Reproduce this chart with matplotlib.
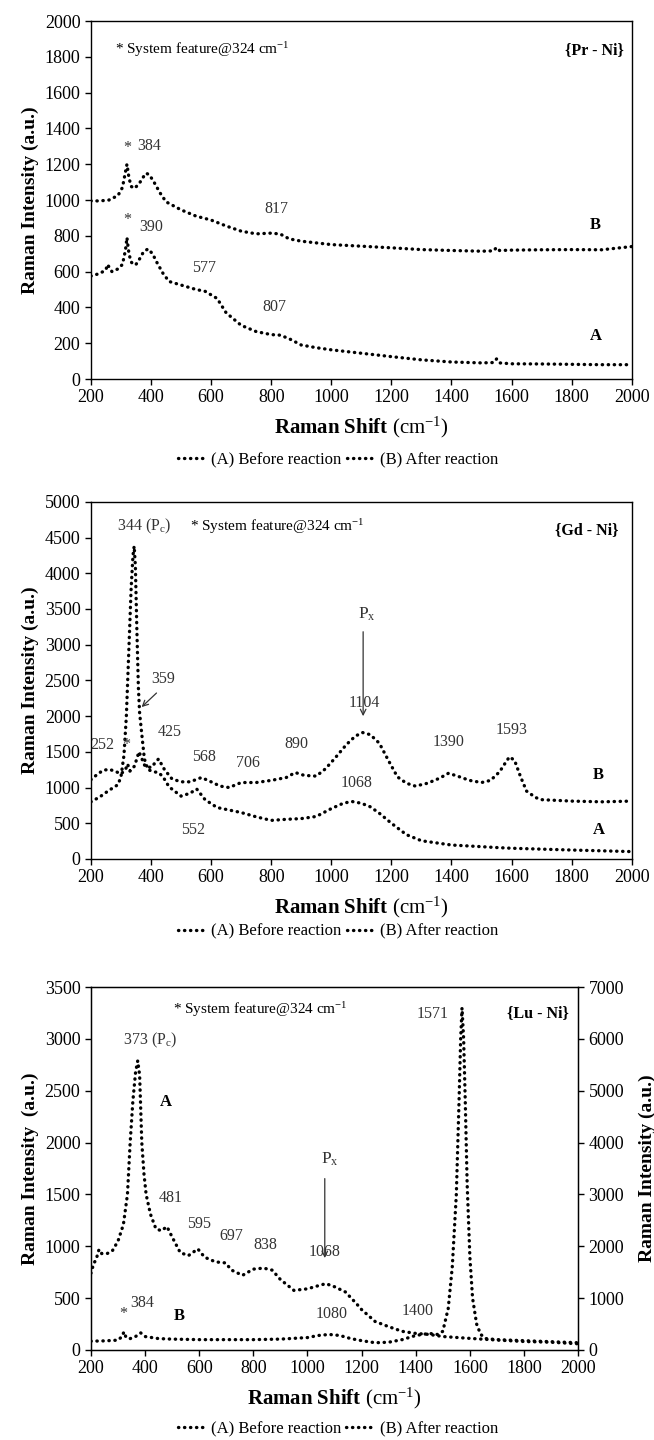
import matplotlib
matplotlib.use('Agg')
import matplotlib.pyplot as plt
from matplotlib.lines import Line2D

plt.rcParams['font.family'] = ['Liberation Serif', 'DejaVu Serif']
plt.rcParams['mathtext.fontset'] = 'custom'
plt.rcParams['mathtext.rm'] = 'Liberation Serif'
plt.rcParams['mathtext.it'] = 'Liberation Serif:italic'
plt.rcParams['mathtext.bf'] = 'Liberation Serif:bold'

# ---- {Pr - Ni} ----
pr_x_a = [200, 230, 250, 255, 270, 290, 305, 315, 320, 325, 332, 340, 350, 360, 375, 390, 405, 420, 440,
          460, 500, 550, 580, 620, 650, 700, 750, 800, 830, 860, 900, 950, 1000, 1100, 1200, 1300, 1400,
          1500, 1540, 1550, 1560, 1600, 1700, 1800, 1900, 2000]
pr_a = [575, 590, 610, 640, 600, 615, 640, 720, 790, 720, 660, 640, 640, 665, 710, 727, 700, 650, 590,
        545, 525, 500, 490, 450, 370, 300, 265, 248, 245, 225, 190, 175, 163, 144, 125, 107, 95,
        90, 92, 112, 90, 85, 84, 82, 80, 80]
pr_x_b = [200, 230, 260, 290, 305, 313, 320, 327, 335, 345, 360, 375, 384, 395, 410, 430, 450, 500, 550,
          600, 650, 700, 750, 800, 830, 860, 900, 1000, 1100, 1200, 1300, 1400, 1500, 1540, 1550, 1560,
          1600, 1700, 1800, 1900, 2000]
pr_b = [995, 995, 1000, 1025, 1070, 1140, 1200, 1120, 1075, 1065, 1090, 1130, 1150, 1140, 1100, 1040, 990,
        945, 910, 888, 855, 826, 811, 815, 810, 783, 770, 751, 742, 733, 723, 718, 714, 716, 735, 718,
        720, 722, 723, 722, 740]

# ---- {Gd - Ni} ----
gd_x_a = [200, 230, 260, 290, 300, 310, 318, 326, 334, 340, 344, 348, 353, 358, 362, 368, 378, 390, 410,
          425, 440, 460, 500, 530, 552, 580, 620, 700, 750, 800, 850, 900, 950, 1000, 1040, 1068, 1100,
          1130, 1160, 1200, 1250, 1300, 1400, 1500, 1550, 1600, 1800, 2000]
gd_a = [800, 870, 960, 1040, 1150, 1450, 2000, 2900, 3800, 4250, 4380, 4100, 3200, 2400, 2050, 1800, 1400,
        1250, 1220, 1210, 1150, 1010, 880, 920, 980, 830, 720, 650, 590, 540, 555, 565, 595, 705, 780,
        805, 780, 730, 640, 500, 340, 255, 195, 172, 160, 150, 125, 103]
gd_x_b = [200, 220, 240, 260, 280, 300, 315, 322, 330, 345, 360, 380, 400, 425, 445, 470, 500, 530, 568,
          600, 630, 660, 700, 750, 800, 850, 880, 910, 950, 980, 1010, 1050, 1080, 1104, 1130, 1160, 1190,
          1220, 1250, 1280, 1320, 1360, 1390, 1420, 1460, 1500, 1530, 1560, 1580, 1593, 1610, 1630, 1650,
          1680, 1700, 1800, 1900, 2000]
gd_b = [1110, 1180, 1240, 1255, 1230, 1190, 1250, 1330, 1230, 1300, 1500, 1300, 1280, 1400, 1250, 1120,
        1080, 1080, 1140, 1080, 1020, 1000, 1070, 1070, 1100, 1140, 1210, 1170, 1160, 1260, 1400, 1600,
        1720, 1770, 1740, 1620, 1380, 1150, 1060, 1020, 1060, 1130, 1200, 1160, 1100, 1070, 1100, 1220,
        1350, 1430, 1380, 1150, 950, 860, 830, 810, 800, 810]

# ---- {Lu - Ni} ----  (A on left axis, B on right axis)
lu_x_a = [200, 210, 220, 230, 240, 260, 280, 300, 320, 335, 345, 355, 365, 373, 380, 388, 396, 404, 420,
          440, 460, 481, 500, 530, 560, 595, 620, 660, 697, 720, 760, 800, 838, 870, 900, 950, 1000, 1040,
          1068, 1100, 1140, 1180, 1200, 1250, 1300, 1350, 1400, 1450, 1500, 1600, 1700, 1800, 1900, 2000]
lu_a = [740, 830, 880, 970, 930, 930, 960, 1050, 1210, 1500, 2000, 2400, 2680, 2790, 2650, 2000, 1700,
        1500, 1310, 1170, 1150, 1190, 1090, 940, 910, 975, 895, 850, 840, 770, 720, 780, 790, 770, 680,
        575, 590, 620, 640, 610, 560, 450, 390, 275, 225, 180, 160, 150, 130, 112, 96, 82, 75, 60]
lu_x_b = [200, 250, 300, 315, 322, 330, 345, 365, 384, 400, 450, 500, 600, 700, 800, 900, 1000, 1040, 1080,
          1120, 1160, 1200, 1250, 1300, 1350, 1400, 1450, 1480, 1500, 1520, 1535, 1550, 1560, 1566, 1571,
          1577, 1583, 1590, 1600, 1610, 1625, 1640, 1660, 1700, 1800, 1900, 2000]
lu_b = [170, 176, 190, 260, 350, 240, 220, 260, 330, 260, 220, 210, 200, 200, 200, 210, 240, 280, 300,
        280, 220, 180, 140, 150, 200, 280, 320, 300, 360, 800, 1600, 3000, 4800, 6000, 6600, 6000, 4800,
        3200, 1800, 1000, 500, 300, 220, 200, 180, 160, 140]

XTICKS = list(range(200, 2001, 200))
DOT = dict(color='black', lw=2.4, ls=(0, (0.1, 1.7)), dash_capstyle='round')
NUM = dict(fontsize=11.5, color='#333333', ha='center', va='center')
BOLD = dict(fontsize=12, fontweight='bold', ha='center', va='center')
XLAB = r'$\mathbf{Raman\ Shift}$ (cm$^{\mathregular{-1}}$)'


def style(ax, ymax, ystep):
    ax.set_xlim(200, 2000)
    ax.set_xticks(XTICKS)
    ax.set_ylim(0, ymax)
    ax.set_yticks(range(0, ymax + 1, ystep))
    ax.tick_params(direction='out', length=4, width=1, labelsize=13)
    ax.set_xlabel(XLAB, fontsize=15, labelpad=6)
    ax.set_ylabel('Raman Intensity (a.u.)', fontsize=14, fontweight='bold', labelpad=4)
    for s in ax.spines.values():
        s.set_linewidth(1)


def legend(ax, xc, yoff):
    h = [Line2D([], [], **DOT), Line2D([], [], **DOT)]
    ax.legend(h, ['(A) Before reaction', '(B) After reaction'], ncol=2, frameon=False,
              loc='center', bbox_to_anchor=(xc, yoff), fontsize=12, handlelength=1.6,
              handletextpad=0.4, columnspacing=0.3)


fig = plt.figure(figsize=(6.54, 14.4), dpi=100)

# top panel
ax1 = fig.add_axes([0.139, 0.7368, 0.827, 0.2486])
ax1.plot(pr_x_a, pr_a, **DOT)
ax1.plot(pr_x_b, pr_b, **DOT)
style(ax1, 2000, 200)
ax1.text(280, 1840, '* System feature@324 cm$^{-1}$', fontsize=11, ha='left', va='center')
ax1.text(1975, 1840, '{Pr - Ni}', fontsize=11.5, fontweight='bold', ha='right', va='center')
ax1.text(322, 1290, '*', **NUM)
ax1.text(395, 1300, '384', **NUM)
ax1.text(322, 890, '*', **NUM)
ax1.text(400, 850, '390', **NUM)
ax1.text(577, 620, '577', **NUM)
ax1.text(810, 400, '807', **NUM)
ax1.text(817, 950, '817', **NUM)
ax1.text(1880, 860, 'B', **BOLD)
ax1.text(1880, 240, 'A', **BOLD)
legend(ax1, 0.457, -0.226)

# middle panel
ax2 = fig.add_axes([0.139, 0.4035, 0.827, 0.248])
ax2.plot(gd_x_a, gd_a, **DOT)
ax2.plot(gd_x_b, gd_b, **DOT)
style(ax2, 5000, 500)
ax2.text(376, 4660, '344 (P$_{\\mathregular{c}}$)', **NUM)
ax2.text(529, 4660, '* System feature@324 cm$^{-1}$', fontsize=11, ha='left', va='center')
ax2.text(1955, 4600, '{Gd - Ni}', fontsize=11.5, fontweight='bold', ha='right', va='center')
ax2.text(1120, 3420, 'P$_{\\mathregular{x}}$', fontsize=12.5, color='#333333', ha='center', va='center')
ax2.annotate('', xy=(1106, 1960), xytext=(1106, 3220),
             arrowprops=dict(arrowstyle='->', color='#333333', lw=0.9))
ax2.text(1110, 2180, '1104', **NUM)
ax2.text(440, 2520, '359', **NUM)
ax2.annotate('', xy=(362, 2100), xytext=(425, 2350),
             arrowprops=dict(arrowstyle='->', color='#333333', lw=0.9))
ax2.text(462, 1780, '425', **NUM)
ax2.text(237, 1590, '252', **NUM)
ax2.text(318, 1600, '*', **NUM)
ax2.text(578, 1430, '568', **NUM)
ax2.text(724, 1350, '706', **NUM)
ax2.text(885, 1610, '890', **NUM)
ax2.text(1390, 1640, '1390', **NUM)
ax2.text(1600, 1800, '1593', **NUM)
ax2.text(1085, 1060, '1068', **NUM)
ax2.text(540, 410, '552', **NUM)
ax2.text(1890, 1180, 'B', **BOLD)
ax2.text(1890, 410, 'A', **BOLD)
legend(ax2, 0.457, -0.204)

# bottom panel
ax3 = fig.add_axes([0.139, 0.0625, 0.745, 0.252])
ax3.plot(lu_x_a, lu_a, **DOT)
style(ax3, 3500, 500)
ax3.set_ylabel('Raman Intensity  (a.u.)', fontsize=14, fontweight='bold', labelpad=4)
ax3r = ax3.twinx()
ax3r.plot(lu_x_b, lu_b, **DOT)
ax3r.set_ylim(0, 7000)
ax3r.set_yticks(range(0, 7001, 1000))
ax3r.tick_params(direction='out', length=4, width=1, labelsize=13)
ax3r.set_ylabel('Raman Intensity (a.u.)', fontsize=14, fontweight='bold', rotation=90, labelpad=10)
ax3.text(504, 3280, '* System feature@324 cm$^{-1}$', fontsize=11, ha='left', va='center')
ax3.text(1520, 3245, '1571', fontsize=11.5, color='#333333', ha='right', va='center')
ax3.text(1965, 3245, '{Lu - Ni}', fontsize=11.5, fontweight='bold', ha='right', va='center')
ax3.text(419, 2990, '373 (P$_{\\mathregular{c}}$)', **NUM)
ax3.text(475, 2390, 'A', **BOLD)
ax3.text(1082, 1840, 'P$_{\\mathregular{x}}$', fontsize=12.5, color='#333333', ha='center', va='center')
ax3.annotate('', xy=(1064, 860), xytext=(1064, 1680),
             arrowprops=dict(arrowstyle='->', color='#333333', lw=0.9))
ax3.text(496, 1470, '481', **NUM)
ax3.text(601, 1220, '595', **NUM)
ax3.text(720, 1096, '697', **NUM)
ax3.text(846, 1013, '838', **NUM)
ax3.text(1064, 945, '1068', **NUM)
ax3.text(319, 350, '*', **NUM)
ax3.text(390, 450, '384', **NUM)
ax3.text(527, 330, 'B', **BOLD)
ax3.text(1090, 345, '1080', **NUM)
ax3.text(1406, 380, '1400', **NUM)
legend(ax3, 0.507, -0.218)

fig.savefig('out.png', dpi=100)
